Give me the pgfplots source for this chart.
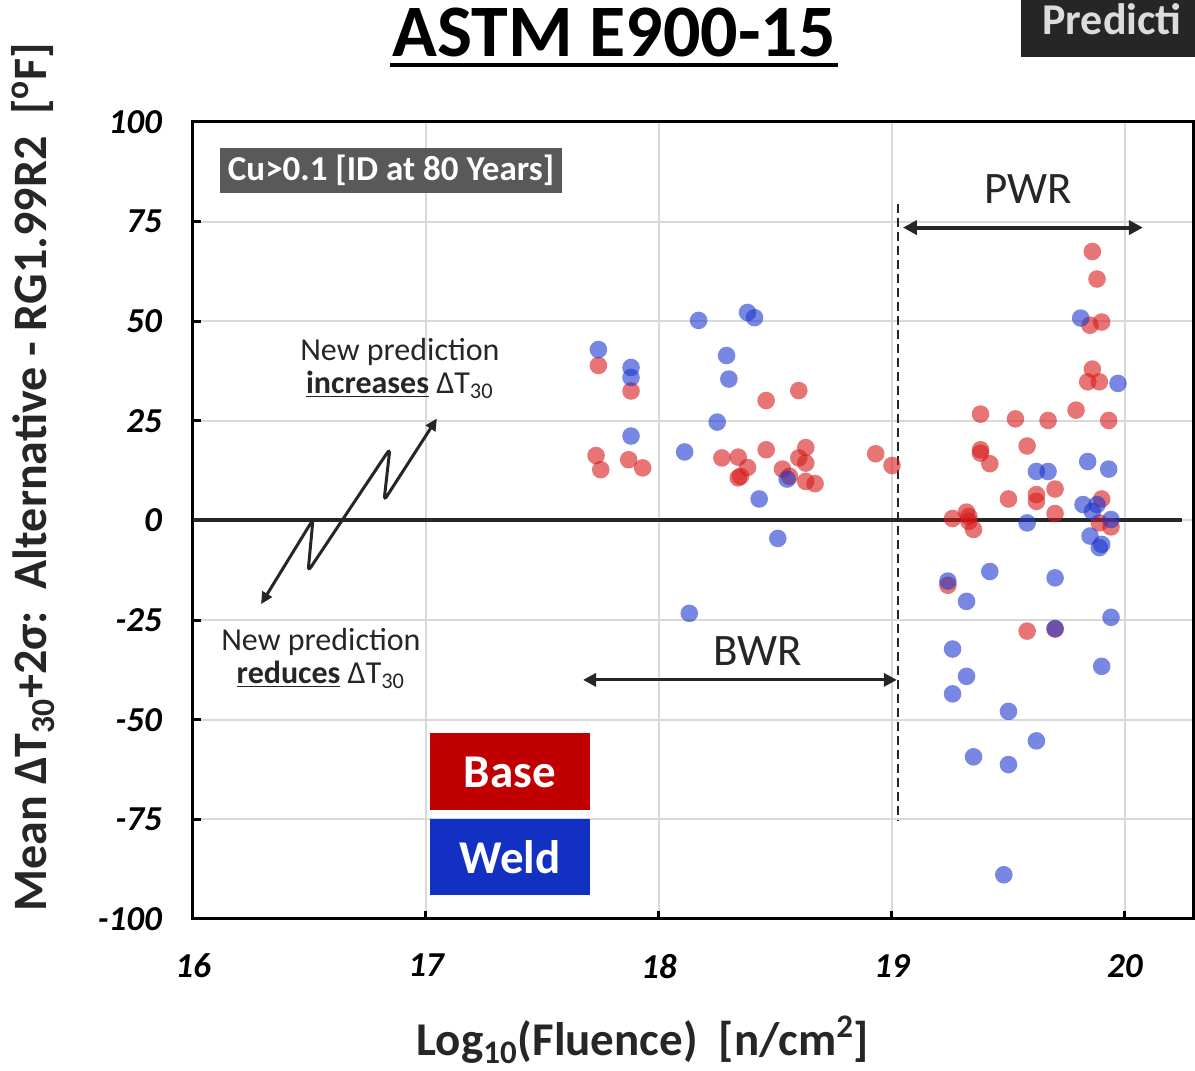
\documentclass[border=0pt]{standalone}
\usepackage{fontspec}
\setmainfont{Carlito}
\usepackage{pgfplots}
\pgfplotsset{compat=1.18}
\usetikzlibrary{arrows.meta}
\definecolor{basec}{RGB}{215,25,25}
\definecolor{weldc}{RGB}{30,55,205}
\definecolor{boxred}{RGB}{192,0,0}
\definecolor{boxblue}{RGB}{18,48,194}
\definecolor{txt}{RGB}{38,38,38}
\definecolor{gridc}{RGB}{217,217,217}
\definecolor{cubox}{RGB}{89,89,89}
\definecolor{predbox}{RGB}{38,38,38}
\definecolor{predtxt}{RGB}{220,220,220}

\pgfplotstableread{
x y
17.74 38.9
17.88 32.5
18.60 32.6
18.46 30.1
17.73 16.3
17.75 12.75
17.87 15.25
17.93 13.2
18.27 15.7
18.34 15.9
18.38 13.3
18.34 10.7
18.35 11.1
18.46 17.75
18.63 18.3
18.60 15.7
18.63 14.4
18.53 12.9
18.56 11.1
18.63 9.8
18.67 9.25
18.93 16.75
19.00 13.8
19.86 67.5
19.88 60.6
19.85 49.0
19.90 49.8
19.86 38.0
19.84 34.8
19.89 34.8
19.38 26.7
19.53 25.5
19.67 25.1
19.79 27.7
19.93 25.1
19.58 18.7
19.38 17.75
19.38 16.9
19.42 14.25
19.70 7.9
19.62 6.5
19.62 4.8
19.50 5.4
19.90 5.4
19.70 1.75
19.26 0.5
19.32 2.1
19.33 -0.2
19.35 -2.25
19.33 1.0
19.89 -0.6
19.94 -1.6
19.24 -16.25
19.58 -27.75
19.70 -27.25
}\basedata

\pgfplotstableread{
x y
17.74 42.9
17.88 38.4
17.88 35.9
18.17 50.2
18.38 52.2
18.41 50.9
18.29 41.4
18.30 35.5
18.25 24.7
17.88 21.2
18.11 17.2
18.55 10.4
18.43 5.4
18.51 -4.5
18.13 -23.3
19.81 50.8
19.97 34.4
19.84 14.8
19.93 12.9
19.62 12.3
19.67 12.3
19.82 4.0
19.88 4.0
19.86 2.3
19.58 -0.6
19.94 0.25
19.85 -3.9
19.90 -6.0
19.89 -6.8
19.24 -15.2
19.42 -12.8
19.70 -14.4
19.32 -20.3
19.94 -24.3
19.70 -27.1
19.26 -32.25
19.90 -36.6
19.32 -39.1
19.26 -43.5
19.50 -47.9
19.62 -55.3
19.35 -59.3
19.50 -61.25
19.48 -88.9
}\welddata

\begin{document}
\begin{tikzpicture}
\useasboundingbox (-96.5pt,-76pt) rectangle (501pt,459.5pt);
\begin{axis}[
  scale only axis, width=500pt, height=398.5pt,
  xmin=16, xmax=20.292, ymin=-100, ymax=100,
  xtick={16,17,18,19,20}, ytick={-100,-75,...,100},
  grid=major, major grid style={gridc, line width=1pt},
  axis line style={black, line width=1.5pt},
  tick style={black, line width=1.5pt},
  major tick length=4pt, tick align=inside,
  xtick pos=left, ytick pos=left,
  ticklabel style={font=\fontsize{17.5}{18}\selectfont\bfseries\itshape},
  /pgf/number format/assume math mode=true,
  xticklabel shift=14pt, yticklabel shift=12pt,
  clip=false,
]
\addplot[only marks, mark=*, mark size=4.4pt, mark options={draw=basec, draw opacity=0, fill=basec, fill opacity=0.6}] table[x=x,y=y] {\basedata};
\addplot[only marks, mark=*, mark size=4.4pt, mark options={draw=weldc, draw opacity=0, fill=weldc, fill opacity=0.6}] table[x=x,y=y] {\welddata};

% zero line
\draw[txt, line width=2pt] (axis cs:16,0) -- (axis cs:20.245,0);
% dashed separation
\draw[txt, line width=0.9pt, dash pattern=on 4.5pt off 2.5pt] (axis cs:19.026,79.5) -- (axis cs:19.026,-75.25);
% PWR / BWR arrows
\draw[txt, line width=2pt, {Triangle[length=7pt,width=7pt]}-{Triangle[length=7pt,width=7pt]}] (axis cs:19.047,73.5) -- (axis cs:20.077,73.5);
\draw[txt, line width=1.6pt, {Triangle[length=6.5pt,width=6.5pt]}-{Triangle[length=6.5pt,width=6.5pt]}] (axis cs:17.674,-40) -- (axis cs:19.021,-40);
\node[txt, font=\fontsize{22.5}{23}\selectfont] at (axis cs:19.584,83.25) {PWR};
\node[txt, font=\fontsize{22.5}{23}\selectfont] at (axis cs:18.425,-32.75) {BWR};

% zigzag arrow
\draw[txt, line width=1.5pt, rounded corners=2.5pt, {Triangle[length=6pt,width=5.5pt]}-{Triangle[length=6pt,width=5.5pt]}]
  (axis cs:16.292,-21) -- (axis cs:16.515,0.25) -- (axis cs:16.494,-12.75)
  -- (axis cs:16.845,18) -- (axis cs:16.820,5) -- (axis cs:17.047,25.6);

% annotations
\node[txt, align=center, font=\fontsize{16}{16.5}\selectfont] at (axis cs:16.888,38.25)
  {New prediction\\\underline{\textbf{increases}} ΔT\textsubscript{30}};
\node[txt, align=center, font=\fontsize{16}{16.5}\selectfont] at (axis cs:16.549,-34.6)
  {New prediction\\\underline{\textbf{reduces}} ΔT\textsubscript{30}};

% Cu box
\node[fill=cubox, text=white, font=\fontsize{17.5}{18}\selectfont\bfseries, minimum width=171pt, minimum height=22.5pt, inner sep=0pt] at (axis cs:16.85,87.9) {Cu>0.1 [ID at 80 Years]};

% Base / Weld boxes
\node[fill=boxred, text=white, font=\fontsize{23.5}{24}\selectfont\bfseries, minimum width=80pt, minimum height=38.5pt, inner sep=0pt] at (axis cs:17.36,-63.1) {Base};
\node[fill=boxblue, text=white, font=\fontsize{23.5}{24}\selectfont\bfseries, minimum width=80pt, minimum height=38pt, inner sep=0pt] at (axis cs:17.36,-84.5) {Weld};
\end{axis}

% title
\node[anchor=base, font=\fontsize{37}{38}\selectfont\bfseries, text=black, inner sep=0pt] at (210.5pt,431pt) {ASTM E900-15};
\draw[black, line width=2pt] (98.5pt,427pt) -- (322.5pt,427pt);

% Prediction box (cut off at the page edge, as in the reference)
\fill[predbox] (414pt,431pt) rectangle (560pt,470pt);
\node[anchor=base west, inner sep=0pt, text=predtxt, font=\fontsize{22}{22}\selectfont\bfseries] at (424.5pt,442pt) {Predicti};

% axis labels
\node[rotate=90, txt, font=\fontsize{24}{24}\selectfont\bfseries] at (-80pt,221pt)
  {Mean ΔT\textsubscript{30}+2σ:\ \ Alternative - RG1.99R2\ \ [\textsuperscript{o}F]};
\node[txt, font=\fontsize{23.5}{24}\selectfont\bfseries] at (225pt,-60.5pt)
  {Log\textsubscript{10}(Fluence)\ \ [n/cm\textsuperscript{2}]};
\end{tikzpicture}
\end{document}
